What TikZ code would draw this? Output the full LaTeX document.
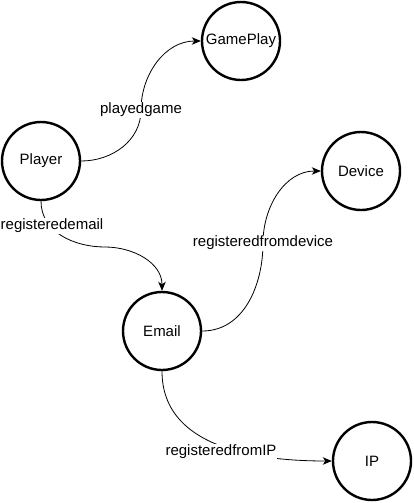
\documentclass[tikz,border=0pt]{standalone}
\usepackage{fontspec}
\setmainfont{Liberation Sans}
\usetikzlibrary{arrows}
\usetikzlibrary{arrows.meta}

\begin{document}
\begin{tikzpicture}[line cap=round,line join=round,>={Stealth[length=9pt,width=7.5pt,inset=2.5pt]},x=1pt,y=-1pt,
  entity/.style={circle,draw,line width=2.4pt,minimum size=78pt,inner sep=0pt,font=\fontsize{15}{18}\selectfont},
  edge/.style={->,line width=0.8pt},
  lbl/.style={fill=white,inner sep=1pt,font=\fontsize{15}{18}\selectfont}]
\useasboundingbox (0,0) rectangle (413,503);
\node[entity] (gameplay) at (241,41) {GamePlay};
\node[entity] (player) at (41,161) {Player};
\node[entity] (device) at (361,171) {Device};
\node[entity] (email) at (162,331) {Email};
\node[entity] (ip) at (372,461) {IP};
\draw[edge] (player.east) to[out=0,in=-90] (141,110) node[lbl] (lplayed) {playedgame} to[out=90,in=180] (gameplay.west);
\draw[edge] (player.south) to[out=-90,in=180] (105,247) to[out=0,in=90] (email.north) node[lbl] (lemail) at (52,226) {registeredemail};
\draw[edge] (email.east) to[out=0,in=-90] (263,243) node[lbl] (ldevice) {registeredfromdevice} to[out=90,in=180] (device.west);
\draw[edge] (email.south) .. controls (162,450) and (262,461) .. (ip.west) node[lbl] (lip) at (221,452) {registeredfromIP};
\end{tikzpicture}
\end{document}
